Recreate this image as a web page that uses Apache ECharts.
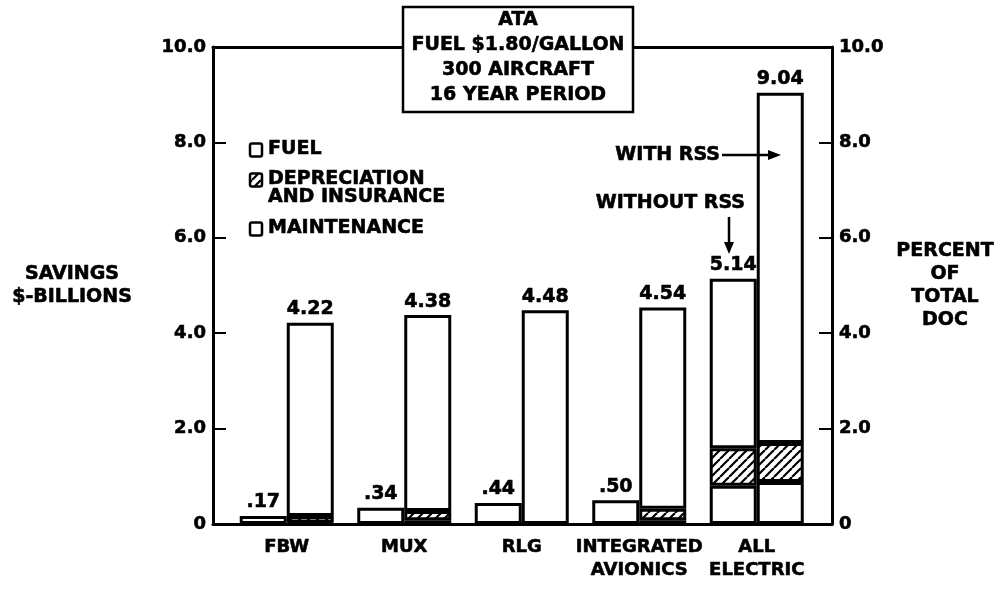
<!DOCTYPE html>
<html>
<head>
<meta charset="utf-8">
<script src="https://cdn.jsdelivr.net/npm/echarts@6/dist/echarts.min.js"></script>
<style>
  html, body { margin: 0; padding: 0; background: #fff; }
  #chart { width: 1003px; height: 589px; }
</style>
</head>
<body>
<div id="chart"></div>
<script>
// categories along the bottom
const categories = ['FBW', 'MUX', 'RLG', 'INTEGRATED\nAVIONICS', 'ALL\nELECTRIC'];

// left (narrow) bar of each pair - without RSS
const smallMaint = ['-', '-', '-', '-', 0.80];
const smallDep = ['-', '-', '-', '-', 0.79];
const smallFuel = [0.17, 0.34, 0.44, 0.50, 3.55];
const smallTotals = [0.17, 0.34, 0.44, 0.50, 5.14];

// right bar of each pair - with RSS
const bigMaint = [0.03, 0.08, '-', 0.08, 0.88];
const bigDep = [0.14, 0.19, '-', 0.24, 0.82];
const bigFuel = [4.05, 4.11, 4.48, 4.22, 7.34];
const bigTotals = [4.22, 4.38, 4.48, 4.54, 9.04];

const titleLines = ['ATA', 'FUEL $1.80/GALLON', '300 AIRCRAFT', '16 YEAR PERIOD'];

const FONT = '"DejaVu Sans", sans-serif';
const INK = '#000';
const HEAVY = 0.6; // thin outline so the lettering reads as heavy as the print

// diagonal hatching for depreciation and insurance
function makeHatch() {
    const c = document.createElement('canvas');
    c.width = 9;
    c.height = 9;
    const ctx = c.getContext('2d');
    ctx.fillStyle = '#fff';
    ctx.fillRect(0, 0, 9, 9);
    ctx.strokeStyle = INK;
    ctx.lineWidth = 2.2;
    [-9, 0, 9].forEach(function (k) {
        ctx.beginPath();
        ctx.moveTo(k, 9);
        ctx.lineTo(k + 9, 0);
        ctx.stroke();
    });
    return c;
}
const hatch = { image: makeHatch(), repeat: 'repeat' };

function fmtValue(v) {
    return v < 1 ? v.toFixed(2).replace(/^0/, '') : v.toFixed(2);
}

function barSeries(name, stack, data, fill, totals) {
    const s = {
        name: name,
        type: 'bar',
        stack: stack,
        xAxisIndex: 2,
        yAxisIndex: 2,
        barWidth: 47,
        barGap: '0%',
        data: data,
        itemStyle: { color: fill, borderColor: INK, borderWidth: 3 },
        label: { show: false }
    };
    if (totals) {
        s.label = {
            show: true,
            position: 'top',
            distance: 4,
            color: INK,
            fontFamily: FONT,
            fontWeight: 'bold',
            fontSize: 19,
            textBorderColor: INK,
            textBorderWidth: HEAVY,
            formatter: function (p) { return fmtValue(totals[p.dataIndex]); }
        };
    }
    return s;
}

function frameY(position) {
    return {
        type: 'value',
        gridIndex: 0,
        position: position,
        min: 0,
        max: 10,
        interval: 2,
        axisLine: { show: true, onZero: false, lineStyle: { color: INK, width: 3 } },
        axisTick: { show: true, inside: true, length: 13, lineStyle: { color: INK, width: 2 } },
        splitLine: { show: false },
        axisLabel: {
            margin: 7,
            color: INK,
            fontFamily: FONT,
            fontWeight: 'bold',
            fontSize: 18,
            textBorderColor: INK,
            textBorderWidth: HEAVY,
            formatter: function (v) { return v === 0 ? '0' : v.toFixed(1); }
        }
    };
}

function frameX(position) {
    return {
        type: 'value',
        gridIndex: 0,
        position: position,
        min: 0,
        max: 1,
        axisLine: { show: true, onZero: false, lineStyle: { color: INK, width: 3 } },
        axisTick: { show: false },
        axisLabel: { show: false },
        splitLine: { show: false }
    };
}

const nameStyle = {
    color: INK,
    fontFamily: FONT,
    fontWeight: 'bold',
    fontSize: 19,
    lineHeight: 23,
    align: 'center',
    textBorderColor: INK,
    textBorderWidth: HEAVY
};

const leftAxis = frameY('left');
leftAxis.name = 'SAVINGS\n$-BILLIONS';
leftAxis.nameLocation = 'middle';
leftAxis.nameRotate = 0;
leftAxis.nameGap = 141;
leftAxis.nameTextStyle = nameStyle;

const rightAxis = frameY('right');
rightAxis.name = 'PERCENT\nOF\nTOTAL\nDOC';
rightAxis.nameLocation = 'middle';
rightAxis.nameRotate = 0;
rightAxis.nameGap = 113;
rightAxis.nameTextStyle = nameStyle;

function legendItem(y, fill, label) {
    return {
        type: 'group',
        children: [
            {
                type: 'rect',
                shape: { x: 250, y: y - 6.5, width: 12, height: 13, r: 2 },
                style: { fill: fill, stroke: INK, lineWidth: 2.5 }
            },
            {
                type: 'text',
                style: {
                    text: label, x: 268, y: y - 10, textAlign: 'left', textVerticalAlign: 'top',
                    font: 'bold 19px ' + FONT, fill: INK, lineHeight: 18,
                    stroke: INK, lineWidth: HEAVY
                }
            }
        ]
    };
}

function textAt(text, x, y, align) {
    return {
        type: 'text',
        z: 100,
        style: {
            text: text, x: x, y: y, textAlign: align, textVerticalAlign: 'middle',
            font: 'bold 19px ' + FONT, fill: INK, stroke: INK, lineWidth: HEAVY
        }
    };
}

const chart = echarts.init(document.getElementById('chart'), null, { renderer: 'canvas' });

const option = {
    animation: false,
    backgroundColor: '#fff',
    grid: [
        { left: 213, right: 171, top: 47, bottom: 65 },
        { left: 228, right: 187.5, top: 47, bottom: 65 }
    ],
    xAxis: [
        frameX('bottom'),
        frameX('top'),
        {
            type: 'category',
            gridIndex: 1,
            data: categories,
            axisLine: { show: false },
            axisTick: { show: false },
            axisLabel: {
                margin: 12,
                color: INK,
                fontFamily: FONT,
                fontWeight: 'bold',
                fontSize: 18,
                lineHeight: 23,
                textBorderColor: INK,
                textBorderWidth: HEAVY,
                interval: 0
            }
        }
    ],
    yAxis: [
        leftAxis,
        rightAxis,
        { type: 'value', gridIndex: 1, min: 0, max: 10, show: false }
    ],
    series: [
        barSeries('MAINTENANCE', 'without', smallMaint, '#fff'),
        barSeries('DEPRECIATION AND INSURANCE', 'without', smallDep, hatch),
        barSeries('FUEL', 'without', smallFuel, '#fff', smallTotals),
        barSeries('MAINTENANCE', 'with', bigMaint, '#fff'),
        barSeries('DEPRECIATION AND INSURANCE', 'with', bigDep, hatch),
        barSeries('FUEL', 'with', bigFuel, '#fff', bigTotals)
    ],
    graphic: [
        // title box over the top frame line
        {
            type: 'rect',
            z: 100,
            shape: { x: 403, y: 7, width: 230, height: 105 },
            style: { fill: '#fff', stroke: INK, lineWidth: 2.5 }
        },
        {
            type: 'text',
            z: 101,
            style: {
                text: titleLines.join('\n'), x: 518, y: 58, textAlign: 'center', textVerticalAlign: 'middle',
                font: 'bold 19px ' + FONT, fill: INK, lineHeight: 25, stroke: INK, lineWidth: HEAVY
            }
        },
        // legend
        legendItem(150, '#fff', 'FUEL'),
        legendItem(180, hatch, 'DEPRECIATION\nAND INSURANCE'),
        legendItem(229, '#fff', 'MAINTENANCE'),
        // annotations
        textAt('WITH RSS', 720, 155, 'right'),
        {
            type: 'line', z: 100,
            shape: { x1: 722, y1: 155, x2: 770, y2: 155 },
            style: { stroke: INK, lineWidth: 2.5 }
        },
        {
            type: 'polygon', z: 100,
            shape: { points: [[781, 155], [768, 150], [768, 160]] },
            style: { fill: INK }
        },
        textAt('WITHOUT RSS', 745, 203, 'right'),
        {
            type: 'line', z: 100,
            shape: { x1: 729, y1: 217, x2: 729, y2: 244 },
            style: { stroke: INK, lineWidth: 2.5 }
        },
        {
            type: 'polygon', z: 100,
            shape: { points: [[729, 254], [724, 242], [734, 242]] },
            style: { fill: INK }
        }
    ]
};

chart.setOption(option);
</script>
</body>
</html>
